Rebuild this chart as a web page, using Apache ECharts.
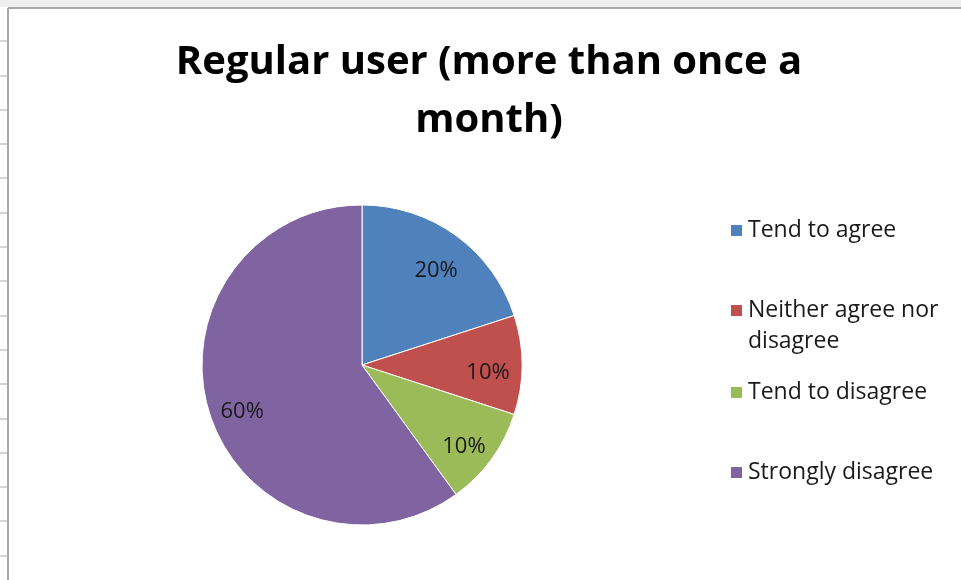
<!DOCTYPE html>
<html>
<head>
<meta charset="utf-8">
<script src="https://cdn.jsdelivr.net/npm/echarts@6/dist/echarts.min.js"></script>
<style>
  html, body { margin: 0; padding: 0; background: #fff; }
  #chart { position: absolute; left: 0; top: 0; width: 961px; height: 580px; }
  #rows {
    position: absolute; left: 0; top: 8px; width: 8px; height: 572px;
    background: repeating-linear-gradient(to bottom, transparent 0, transparent 32.3px, #d4d4d4 32.3px, #d4d4d4 34.3px);
  }
</style>
</head>
<body>
<div id="rows"></div>
<div id="chart"></div>
<script>
const titleText = 'Regular user (more than once a\nmonth)';
const categories = ['Tend to agree', 'Neither agree nor disagree', 'Tend to disagree', 'Strongly disagree'];
const shares = [20, 10, 10, 60];
const colors = ['#4F81BD', '#C0504D', '#9BBB59', '#8064A2'];

const font = "'Open Sans', 'Noto Sans', sans-serif";
const pieData = categories.map((name, i) => ({ name: name, value: shares[i] }));

// one legend per entry so each can sit where Excel put it
const legendTops = [215, 264, 377, 457];
const legends = categories.map((name, i) => ({
  orient: 'vertical',
  left: 729,
  top: legendTops[i],
  padding: 0,
  itemWidth: 13,
  itemHeight: 13,
  icon: 'rect',
  selectedMode: false,
  data: [name],
  // empty first line keeps the square level with the first line of wrapped text
  formatter: i === 1 ? (n) => '\n' + n : '{name}',
  textStyle: {
    fontFamily: font,
    fontSize: 23,
    lineHeight: 31,
    color: '#1a1a1a',
    width: 200,
    overflow: 'break'
  }
}));

const myChart = echarts.init(document.getElementById('chart'));
myChart.setOption({
  color: colors,
  animation: false,
  title: {
    text: titleText,
    left: 489,
    top: 34,
    padding: 0,
    textAlign: 'center',
    textStyle: {
      fontFamily: font,
      fontWeight: 'bold',
      fontSize: 40,
      lineHeight: 58,
      color: '#000'
    }
  },
  legend: legends,
  graphic: [
    { type: 'rect', shape: { x: 0, y: 0, width: 961, height: 7 }, style: { fill: '#efefef' }, silent: true },
    { type: 'line', shape: { x1: 8, y1: 8, x2: 961, y2: 8 }, style: { stroke: '#a8a8a8', lineWidth: 2 }, silent: true },
    { type: 'line', shape: { x1: 8, y1: 8, x2: 8, y2: 580 }, style: { stroke: '#a8a8a8', lineWidth: 2 }, silent: true }
  ],
  series: [
    {
      type: 'pie',
      center: [362, 365],
      radius: [0, 160],
      startAngle: 90,
      clockwise: true,
      label: { show: false },
      labelLine: { show: false },
      itemStyle: { borderColor: '#fff', borderWidth: 1 },
      emphasis: { disabled: true },
      data: pieData
    },
    {
      // transparent ring that carries the labels further out than the default inside spot
      type: 'pie',
      center: [362, 365],
      radius: [86, 160],
      startAngle: 90,
      clockwise: true,
      silent: true,
      itemStyle: { color: 'transparent', borderWidth: 0 },
      label: {
        show: true,
        position: 'inside',
        formatter: '\n{c}%',
        fontFamily: font,
        fontSize: 22,
        lineHeight: 16,
        color: '#1a1a1a'
      },
      labelLine: { show: false },
      data: pieData
    }
  ]
});
</script>
</body>
</html>
